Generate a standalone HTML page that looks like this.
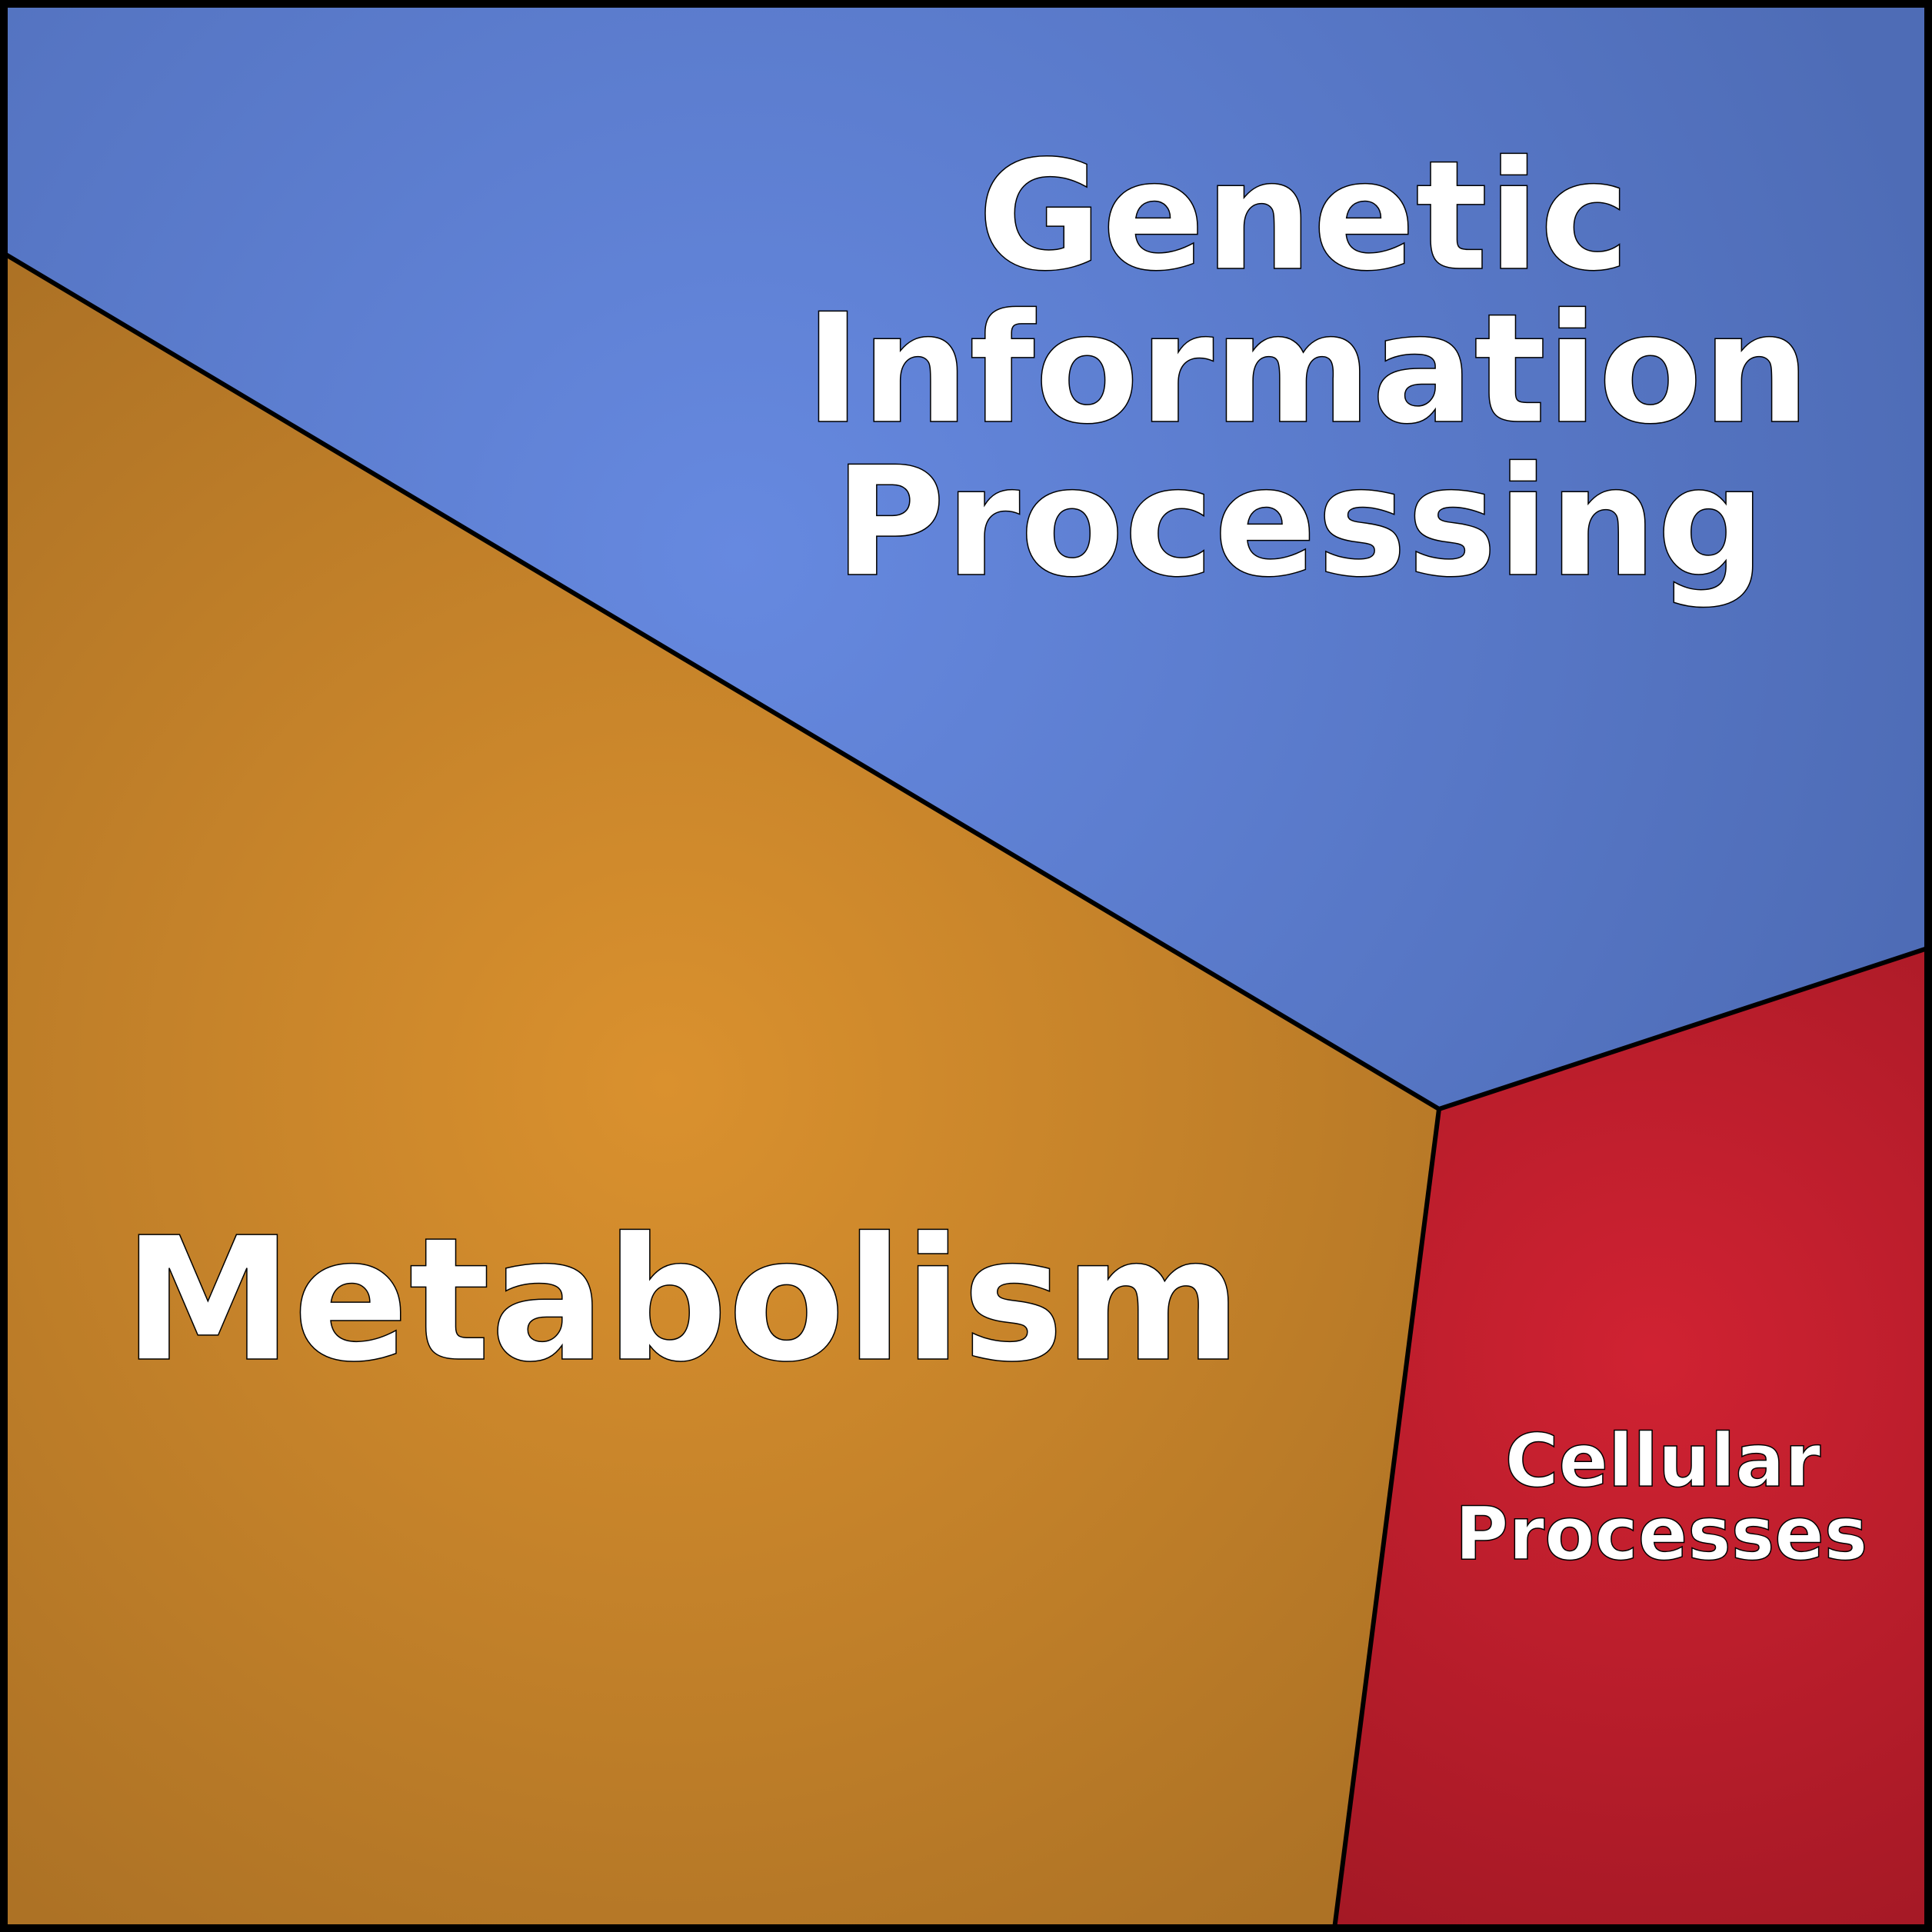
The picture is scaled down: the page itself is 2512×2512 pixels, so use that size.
<!DOCTYPE html>
<html><head><meta charset="utf-8"><style>html,body{margin:0;padding:0;background:#000}svg{display:block}</style></head>
<body>
<svg xmlns="http://www.w3.org/2000/svg" width="2512" height="2512" viewBox="0 0 2512 2512">
<defs>
<radialGradient id="gb" gradientUnits="userSpaceOnUse" cx="960" cy="720" r="1600">
<stop offset="0" stop-color="#6689e0"/><stop offset="1" stop-color="#4e6cb6"/></radialGradient>
<radialGradient id="go" gradientUnits="userSpaceOnUse" cx="865" cy="1410" r="1350">
<stop offset="0" stop-color="#da912e"/><stop offset="1" stop-color="#ad7225"/></radialGradient>
<radialGradient id="gr" gradientUnits="userSpaceOnUse" cx="2147" cy="1762" r="900">
<stop offset="0" stop-color="#d02232"/><stop offset="1" stop-color="#a11824"/></radialGradient>
</defs>
<rect x="0" y="0" width="2512" height="2512" fill="url(#gb)"/>
<polygon points="0,328 1871,1442 1735,2512 0,2512" fill="url(#go)"/>
<polygon points="1871,1442 2512,1231 2512,2512 1735,2512" fill="url(#gr)"/>
<polyline points="6,330 1871,1442 2506,1233" fill="none" stroke="#000" stroke-width="6"/>
<line x1="1871" y1="1442" x2="1735" y2="2508" stroke="#000" stroke-width="6"/>
<rect x="5" y="5" width="2502" height="2502" fill="none" stroke="#000" stroke-width="10"/>
<g font-family="'DejaVu Sans','Liberation Sans',sans-serif" font-weight="bold" fill="#fff" stroke="#000" stroke-width="1.5">
<text x="1695" y="349" font-size="197" text-anchor="middle">Genetic</text>
<text x="1700" y="548" font-size="197" text-anchor="middle">Information</text>
<text x="1690" y="747" font-size="197" text-anchor="middle">Processing</text>
<text x="160" y="1767" font-size="222">Metabolism</text>
<text x="2162" y="1932" font-size="95" text-anchor="middle">Cellular</text>
<text x="2160" y="2027" font-size="95" text-anchor="middle">Processes</text>
</g>
</svg>
</body></html>
